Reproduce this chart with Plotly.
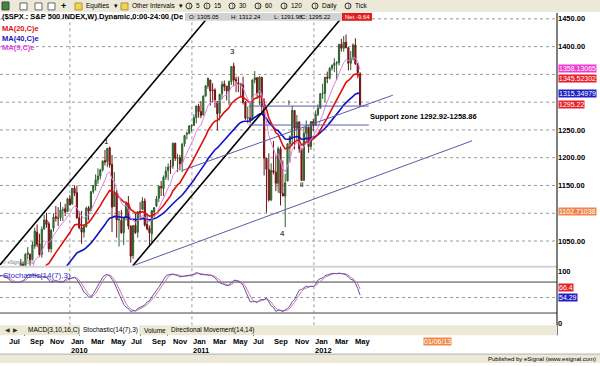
import numpy as np
import pandas as pd
import plotly.graph_objects as go

W, H = 600, 366
def px(x): return x / W
def py(y): return 1 - y / H

# ---------------- data (weekly S&P 500, weeks ending Fridays) ----------------
week_start = "2009-01-09"
opens = [929,888,845,832, 823,867,819,773, 729,684,754,771, 809,839,854,868, 861,880,924,879,887,
         923,941,943,919, 921,895,880,941,980, 991,1008,999,1026, 1026,1017,1041,1066,
         1045,1026,1072,1088,1081, 1036,1073,1094,1091, 1092,1106,1108,1103,1126,
         1117,1145,1137,1092, 1074,1066,1076,1110, 1105,1139,1149,1160, 1167,1178,1195,1193,1218,
         1188,1112,1136,1088, 1087,1065,1092,1118, 1077,1024,1078,1066,1103, 1107,1122,1080,1073,
         1063,1102,1113,1127, 1148,1144,1165,1177,1184, 1185,1226,1199,1200, 1190,1225,1242,1244,1257,
         1258,1272,1293,1283, 1277,1311,1329,1340, 1322,1322,1301,1280, 1315,1333,1329,1319,1337,
         1365,1341,1335,1333, 1331,1300,1272,1272, 1268,1340,1344,1316,1345, 1292,1199,1179,1124,
         1177,1174,1154,1216,1136, 1131,1158,1225,1238, 1285,1253,1264,1216, 1159,1244,1255,1220,1265,
         1258,1278,1289,1315, 1316,1345,1343,1361, 1366,1370,1371,1404,1397, 1408,1398,1370,1379,
         1403,1369,1351]
highs = [943,893,851,877, 875,876,827,780, 730,758,804,833, 845,857,876,868, 888,930,924,924,920,
         951,956,945,935, 931,898,943,980,997, 1018,1013,1028,1039, 1028,1049,1074,1080,
         1063,1076,1097,1101,1085, 1072,1100,1113,1111, 1120,1111,1117,1128,1133,
         1145,1150,1150,1104, 1104,1080,1112,1113, 1139,1151,1170,1181, 1180,1195,1214,1217,1220,
         1205,1174,1142,1104, 1106,1093,1120,1131, 1078,1078,1100,1103,1120, 1129,1127,1100,1078,
         1105,1111,1131,1149, 1158,1168,1184,1190,1196, 1227,1227,1207,1205, 1225,1241,1247,1259,1260,
         1278,1294,1297,1302, 1312,1331,1344,1340, 1334,1325,1302,1315, 1338,1339,1329,1339,1365,
         1371,1346,1346,1334, 1346,1302,1292,1298, 1341,1356,1344,1347,1345, 1307,1199,1208,1190,
         1230,1204,1220,1220,1195, 1171,1226,1240,1293, 1285,1277,1266,1216, 1255,1267,1256,1265,1270,
         1285,1296,1316,1333, 1345,1355,1363,1368, 1379,1374,1405,1414,1419, 1422,1399,1392,1406,
         1415,1370,1354]
lows = [888,805,804,821, 805,816,754,731, 667,672,751,771, 779,814,836,826, 847,867,878,878,881,
        918,929,903,888, 896,869,875,936,969, 987,991,979,1017, 991,1017,1036,1039,
        1021,1020,1070,1074,1030, 1029,1067,1085,1077, 1086,1086,1095,1103,1115,
        1115,1131,1090,1071, 1045,1056,1074,1087, 1105,1135,1141,1153, 1161,1175,1186,1183,1182,
        1066,1112,1056,1040, 1063,1043,1087,1071, 1011,1018,1063,1056,1089, 1106,1076,1069,1040,
        1048,1092,1111,1120, 1131,1131,1160,1159,1171, 1180,1194,1174,1177, 1174,1220,1233,1242,1247,
        1258,1262,1272,1271, 1276,1310,1324,1294, 1300,1290,1249,1267, 1305,1320,1303,1295,1331,
        1329,1318,1318,1311, 1296,1268,1262,1262, 1268,1334,1307,1295,1282, 1168,1101,1121,1122,
        1170,1140,1137,1114,1131, 1075,1158,1191,1221, 1215,1226,1209,1159, 1159,1228,1209,1214,1248,
        1258,1275,1289,1306, 1300,1334,1341,1357, 1354,1340,1366,1391,1391, 1397,1357,1358,1375,
        1367,1343,1291.98]
closes = [890,850,832,826, 869,827,770,735, 683,757,769,816, 843,857,870,866, 878,929,883,887,919,
          940,946,921,919, 896,879,940,979,987, 1010,1004,1026,1029, 1016,1043,1068,1044,
          1025,1071,1088,1080,1036, 1069,1093,1091,1091, 1106,1106,1102,1126,1115,
          1145,1136,1092,1074, 1066,1076,1109,1104, 1139,1150,1160,1167, 1178,1194,1192,1217,1187,
          1111,1136,1088,1089, 1065,1092,1118,1077, 1023,1078,1065,1103,1102, 1122,1079,1072,1065,
          1105,1110,1126,1149, 1146,1165,1176,1183,1183, 1226,1199,1200,1189, 1225,1240,1244,1257,1258,
          1272,1293,1283,1276, 1311,1329,1343,1320, 1321,1304,1279,1314, 1332,1328,1320,1337,1364,
          1340,1338,1333,1331, 1300,1271,1272,1268, 1340,1344,1316,1345,1292, 1199,1179,1124,1177,
          1174,1154,1216,1136,1131, 1155,1225,1238,1285, 1253,1264,1216,1159, 1244,1255,1220,1265,1258,
          1278,1289,1315,1316, 1345,1343,1361,1366, 1370,1371,1404,1397,1408, 1398,1370,1379,1403,
          1369,1353,1295.22]
dates = pd.date_range(week_start, periods=len(closes), freq="W-FRI")

grid_levels = [1050, 1100, 1150, 1200, 1250, 1300, 1350, 1400, 1450]
price_ticks = [1050, 1150, 1200, 1250, 1400, 1450]

month_dates = ["2009-07-01","2009-09-01","2009-11-01","2010-01-01","2010-03-01","2010-05-01",
               "2010-07-01","2010-09-01","2010-11-01","2011-01-01","2011-03-01","2011-05-01",
               "2011-07-01","2011-09-01","2011-11-01","2012-01-01","2012-03-01","2012-05-01"]
month_names = ["Jul","Sep","Nov","Jan","Mar","May","Jul","Sep","Nov","Jan","Mar","May",
               "Jul","Sep","Nov","Jan","Mar","May"]
year_dates = ["2010-01-01", "2011-01-01", "2012-01-01"]
year_names = ["2010", "2011", "2012"]

# drawn trendlines (date, price) anchors
black_lines = [(("2009-06-06", 1007.1), ("2011-02-12", 1448.2)),
               (("2010-07-08", 1005.4), ("2012-03-19", 1448.2))]
blue_lines = [(("2010-07-08", 1005.4), ("2013-04-18", 1230.4)),
              (("2010-12-02", 1176.8), ("2012-08-24", 1312.5))]
support_levels = [1292.92, 1258.86]
support_span = ("2011-06-20", "2012-06-13")

wave_labels = ["1", "3", "4", "i", "ii"]
wave_x = ["2010-04-21", "2011-05-01", "2011-09-30", "2011-10-18", "2011-11-26"]
wave_y = [1229, 1391, 1064, 1300, 1152]

value_boxes = [("1358.13065", 1358.13065, "#f03cd0", 1.3), ("1345.52302", 1345.52302, "#e8202a", -1.3),
               ("1315.34979", 1315.34979, "#2020c8", 0), ("1295.22", 1295.22, "#e8202a", 0),
               ("1102.71038", 1102.71038, "#f0844a", 0)]
stoch_boxes = [("66.4", 66.4, "#e8202a", 1.7), ("54.29", 54.29, "#2020c8", -1.7)]

# ---------------- indicators ----------------
s = pd.Series(closes, index=dates, dtype=float)
ema9 = s.ewm(span=9, adjust=False).mean()
ema20 = s.ewm(span=20, adjust=False).mean()
ema40 = s.ewm(span=40, adjust=False).mean()
hh = pd.Series(highs, index=dates, dtype=float).rolling(14).max()
ll = pd.Series(lows, index=dates, dtype=float).rolling(14).min()
raw_k = 100 * (s - ll) / (hh - ll)
pct_k = raw_k.rolling(7).mean()
pct_d = pct_k.rolling(3).mean()

# ---------------- figure ----------------
fig = go.Figure()
fig.add_trace(go.Candlestick(
    x=dates, open=opens, high=highs, low=lows, close=closes,
    increasing=dict(line=dict(color="#2d5e2d", width=1), fillcolor="#3f8f3f"),
    decreasing=dict(line=dict(color="#701212", width=1), fillcolor="#b01818"),
    whiskerwidth=0, showlegend=False, xaxis="x", yaxis="y"))
fig.add_trace(go.Scatter(x=dates, y=ema40, mode="lines", line=dict(color="#1010c8", width=1.6),
                         showlegend=False, xaxis="x", yaxis="y"))
fig.add_trace(go.Scatter(x=dates, y=ema20, mode="lines", line=dict(color="#e01010", width=1.6),
                         showlegend=False, xaxis="x", yaxis="y"))
fig.add_trace(go.Scatter(x=dates, y=ema9, mode="lines", line=dict(color="#e080e0", width=1),
                         showlegend=False, xaxis="x", yaxis="y"))
fig.add_trace(go.Scatter(x=dates, y=pct_d, mode="lines", line=dict(color="#d07aa0", width=1),
                         showlegend=False, xaxis="x", yaxis="y2"))
fig.add_trace(go.Scatter(x=dates, y=pct_k, mode="lines", line=dict(color="#6050b0", width=1),
                         showlegend=False, xaxis="x", yaxis="y2"))

shapes = []
ann = []

def rect(x0, y0, x1, y1, fill, line=None, layer="above"):
    shapes.append(dict(type="rect", xref="paper", yref="paper", x0=px(x0), x1=px(x1),
                       y0=py(y1), y1=py(y0), fillcolor=fill,
                       line=dict(width=0 if line is None else 1, color=line or fill), layer=layer))

def hline_px(y, x0, x1, color, width=1, dash="solid"):
    shapes.append(dict(type="line", xref="paper", yref="paper", x0=px(x0), x1=px(x1),
                       y0=py(y), y1=py(y), line=dict(color=color, width=width, dash=dash)))

def text(x, y, t, size=7.5, color="black", anchor="left", bold=False, bg=None,
         xref="paper", yref="paper", family="Arial", yshift=0):
    d = dict(x=px(x) if xref == "paper" else x, y=py(y) if yref == "paper" else y,
             xref=xref, yref=yref, text=t, showarrow=False, xanchor=anchor, yanchor="middle",
             font=dict(size=size, color=color, family=family,
                       weight="bold" if bold else "normal"), borderpad=0, yshift=yshift)
    if bg:
        d["bgcolor"] = bg
    ann.append(d)

# price gridlines
for lv in grid_levels:
    shapes.append(dict(type="line", xref="paper", yref="y", x0=0, x1=px(557), y0=lv, y1=lv,
                       line=dict(color="#9a9a9a", width=1, dash="dot"), layer="below"))
# stochastic bands
for lv, dash in [(80, "solid"), (20, "solid"), (50, "dot")]:
    shapes.append(dict(type="line", xref="paper", yref="y2", x0=0, x1=px(557), y0=lv, y1=lv,
                       line=dict(color="#404040" if dash == "solid" else "#9a9a9a", width=1, dash=dash),
                       layer="below"))
# year separators
for yd in year_dates:
    shapes.append(dict(type="line", xref="x", yref="paper", x0=yd, x1=yd, y0=py(328), y1=py(22),
                       line=dict(color="#9a9a9a", width=1, dash="dot"), layer="below"))
# trendlines
for (a, b) in black_lines:
    shapes.append(dict(type="line", xref="x", yref="y", x0=a[0], y0=a[1], x1=b[0], y1=b[1],
                       line=dict(color="black", width=1.6)))
for (a, b) in blue_lines:
    shapes.append(dict(type="line", xref="x", yref="y", x0=a[0], y0=a[1], x1=b[0], y1=b[1],
                       line=dict(color="#5a5aa8", width=1)))
for lv in support_levels:
    shapes.append(dict(type="line", xref="x", yref="y", x0=support_span[0], x1=support_span[1],
                       y0=lv, y1=lv, line=dict(color="#5a5aa8", width=1)))

# panel separator
rect(0, 268, 557, 270, "#d4d4d4")
# right axis line
shapes.append(dict(type="line", xref="paper", yref="paper", x0=px(557), x1=px(557),
                   y0=py(338), y1=py(13), line=dict(color="black", width=1)))
# tab bar
rect(0, 328, 557, 338, "#ecead6")
rect(80, 328, 139, 338, "#ffffff")
text(4, 333, "◀", size=6, color="#333")
text(12, 333, "▶", size=6, color="#333")
text(27, 333, "MACD(3,10,16,C)", size=6.5)
text(82, 333, "Stochastic(14(7),3)", size=6.5)
text(143, 333, "Volume", size=6.5)
text(170, 333, "Directional Movement(14,14)", size=6.5)
for xx in [24, 79, 140, 167, 253]:
    hline_px(338, xx, xx + 1, "#666")
# bottom status bar
rect(0, 357, 600, 366, "#ece9d8")
hline_px(357, 0, 600, "#b0b0b0")
text(597, 362, "Published by eSignal (www.esignal.com)", size=6, anchor="right")

# top toolbar
rect(0, 0, 600, 12, "#ece9d8")
rect(2, 2, 9, 10, "#3a8a3a", line="#444")
rect(20, 3, 27, 10, "#ffffff", line="#666")
rect(35, 3, 42, 10, "#ffffff", line="#666")
rect(48, 3, 55, 10, "#ffffff", line="#666")
text(60, 6, "+", size=9, bold=True)
rect(75, 3, 82, 10, "#f2d35a", line="#b09030")
text(85, 6, "Equities", size=6.5)
text(113, 6, "▾", size=6.5)
rect(121, 3, 128, 10, "#f2d35a", line="#b09030")
text(131, 6, "Other Intervals", size=6.5)
text(178, 6, "▾", size=6.5)
for cx, lab in [(189, "5"), (207, "15"), (232, "30"), (258, "60"), (284, "120"), (315, "Daily"), (348, "Tick")]:
    shapes.append(dict(type="circle", xref="paper", yref="paper", x0=px(cx - 3), x1=px(cx + 3),
                       y0=py(9), y1=py(3), line=dict(color="#333", width=1)))
    text(cx, 6, "I", size=5, anchor="center")
    text(cx + 6, 6, lab, size=6.5)

# header line
text(1, 17, "($SPX : S&P 500 INDEX,W) Dynamic,0:00-24:00 (De", size=7.5, bold=True)
rect(185, 13, 342, 21, "#d2d2d2")
text(188, 17, "O: 1305.05", size=6)
text(230, 17, "H: 1312.24", size=6)
text(273, 17, "L: 1291.98", size=6)
text(300, 17, "C: 1295.22", size=6)
rect(342, 13, 372, 21, "#e02020")
text(344, 17, "Net -9.64", size=6, color="white")

# MA legend
text(1, 29, "MA(20,C)e", color="#e01010", bold=True)
text(1, 39, "MA(40,C)e", color="#1818c0", bold=True)
text(1, 48, "MA(9,C)e", color="#e040e0", bold=True)
text(2, 278, "Stochastic(14(7),3)", size=8, color="#3030c0")
text(2, 264, "© eSignal 2009", size=4.5, color="#777")

# wave labels
for lab, xd, yv in zip(wave_labels, wave_x, wave_y):
    text(xd, yv, lab, size=8, xref="x", yref="y", anchor="center")
text("2012-06-13", 1275, "Support zone 1292.92-1258.86", size=7.5, bold=True, xref="x", yref="y")

# right-axis value boxes
for t, v, c, sh in value_boxes:
    text(558, v, t, size=7, color="white", bg=c, yref="y", yshift=sh)
for t, v, c, sh in stoch_boxes:
    text(558, v, t, size=7, color="white", bg=c, yref="y2", yshift=sh)

# month / year labels
for d_, m in zip(month_dates, month_names):
    text(d_, 344, m, size=7.5, bold=True, xref="x")
for d_, yname in zip(year_dates, year_names):
    text(d_, 353, yname, size=7.5, bold=True, xref="x")
text(423, 344, "01/06/13", size=7, color="white", bg="#f0884a")

fig.update_layout(
    width=W, height=H, margin=dict(l=0, r=0, t=0, b=0),
    paper_bgcolor="white", plot_bgcolor="white", showlegend=False,
    xaxis=dict(type="date", domain=[0, px(557)], range=["2009-06-06", "2013-12-28"],
               showgrid=False, showticklabels=False, zeroline=False, showline=False, ticks="",
               rangeslider=dict(visible=False), anchor="y"),
    yaxis=dict(domain=[py(268), py(13)], range=[1005.4, 1460.7], side="right", anchor="x",
               tickvals=price_ticks, tickformat=".2f", showgrid=False, zeroline=False,
               showline=False, ticks="", tickfont=dict(size=7.5, color="black", family="Arial", weight="bold")),
    yaxis2=dict(domain=[py(328), py(270)], range=[-3.85, 107.7], side="right", anchor="x",
                tickvals=[0, 100], ticktext=["0", "100"], showgrid=False, zeroline=False,
                showline=False, ticks="", tickfont=dict(size=7.5, color="black", family="Arial", weight="bold")),
    shapes=shapes, annotations=ann,
)
fig.write_html("out.html")
